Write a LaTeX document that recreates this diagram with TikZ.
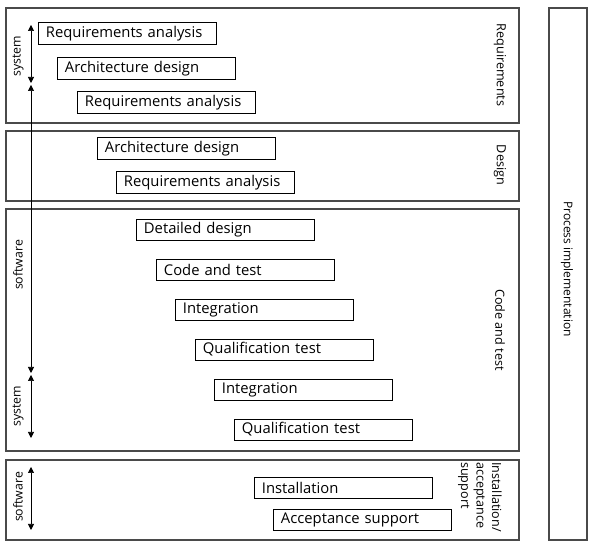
\documentclass[tikz,border=0pt]{standalone}
\usepackage{fontspec}
\setmainfont{Open Sans}
\usetikzlibrary{arrows.meta}
\definecolor{panelgray}{HTML}{4A4A4A}

\tikzset{
  panel/.style={draw=panelgray,line width=1.1pt},
  stepbox/.style={draw=black,line width=.9pt,anchor=west,minimum height=21pt,
    text width=163pt,inner xsep=7.5pt,align=left,font=\fontsize{14.8}{16}\selectfont},
  phase/.style={font=\fontsize{12.6}{15.5}\selectfont,rotate=-90},
  scope label/.style={font=\fontsize{12.3}{14}\selectfont,rotate=90},
  span/.style={{Triangle[length=6pt,width=6pt]}-{Triangle[length=6pt,width=6pt]},line width=.7pt}
}

\begin{document}
\begin{tikzpicture}[x=1pt,y=1pt]
  \useasboundingbox (0,0) rectangle (591,545);
  % phase panels
  \draw[panel] (6,422) rectangle (519,537);
  \draw[panel] (6,344) rectangle (519,414);
  \draw[panel] (6,94) rectangle (519,336);
  \draw[panel] (6,5) rectangle (519,85);
  \draw[panel] (549,5) rectangle (587,537);

  \node[phase] (req) at (500,480) {Requirements};
  \node[phase] (des) at (500,380) {Design};
  \node[phase] (code) at (500,215) {Code and test};
  \node[phase,align=left,anchor=north west,inner sep=0pt] (inst) at (502,83)
    {Installation/\\acceptance\\support};
  \node[phase,font=\fontsize{12}{14}\selectfont] (proc) at (567,276) {Process implementation};

  % activities
  \node[stepbox] (sysreq) at (38,511.5) {Requirements analysis};
  \node[stepbox] (sysarch) at (57,476.5) {Architecture design};
  \node[stepbox] (swreq) at (77,442.5) {Requirements analysis};
  \node[stepbox] (swarch) at (97,396.5) {Architecture design};
  \node[stepbox] (swreq2) at (116,362.5) {Requirements analysis};
  \node[stepbox] (detail) at (136,315) {Detailed design};
  \node[stepbox] (codetest) at (156,275) {Code and test};
  \node[stepbox] (swint) at (175,235) {Integration};
  \node[stepbox] (swqual) at (195,195.5) {Qualification test};
  \node[stepbox] (sysint) at (214,155) {Integration};
  \node[stepbox] (sysqual) at (234,115.5) {Qualification test};
  \node[stepbox] (install) at (254,57.5) {Installation};
  \node[stepbox] (accept) at (273,25.5) {Acceptance support};

  % system / software spans
  \coordinate (systop) at (31,520);
  \coordinate (sysbot) at (31,462);
  \coordinate (swtop) at (31,460);
  \coordinate (swbot) at (31,172);
  \coordinate (sysbtop) at (31,170);
  \coordinate (sysbbot) at (31,107);
  \coordinate (instop) at (31,78);
  \coordinate (insbot) at (31,15);
  \draw[span] (systop) -- (sysbot);
  \draw[span] (swtop) -- (swbot);
  \draw[span] (sysbtop) -- (sysbbot);
  \draw[span] (instop) -- (insbot);

  \node[scope label] (syslbl) at (18,489) {system};
  \node[scope label] (swlbl) at (18,280) {software};
  \node[scope label] (sysblbl) at (18,139) {system};
  \node[scope label] (inslbl) at (18,48) {software};
\end{tikzpicture}
\end{document}
